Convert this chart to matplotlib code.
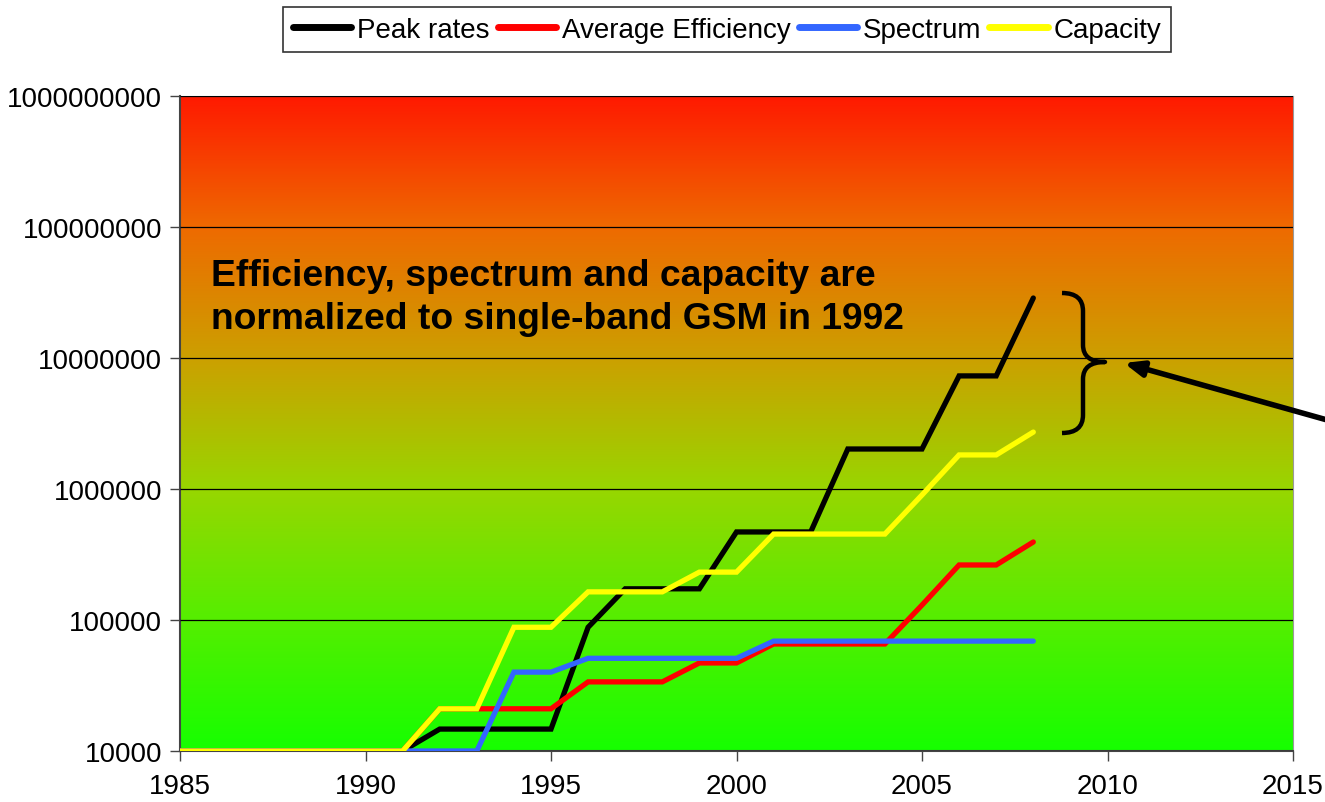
import numpy as np
import matplotlib
matplotlib.use("Agg")
import matplotlib.pyplot as plt
from matplotlib.colors import LinearSegmentedColormap
from matplotlib.path import Path
import matplotlib.patches as mpatches

plt.rcParams["font.family"] = ["Liberation Sans", "DejaVu Sans"]

YEARS = list(range(1985, 2009))

PEAK_RATES = [1e4] * 7 + [1.47e4, 1.47e4, 1.47e4, 1.47e4, 8.8e4, 1.73e5, 1.73e5,
                          1.73e5, 4.7e5, 4.7e5, 4.7e5, 2.02e6, 2.02e6, 2.02e6,
                          7.3e6, 7.3e6, 2.87e7]
AVG_EFFICIENCY = [1e4] * 7 + [2.1e4, 2.1e4, 2.1e4, 2.1e4, 3.37e4, 3.37e4, 3.37e4,
                              4.7e4, 4.7e4, 6.56e4, 6.56e4, 6.56e4, 6.56e4, 1.3e5,
                              2.63e5, 2.63e5, 3.94e5]
SPECTRUM = [1e4] * 9 + [4.0e4, 4.0e4, 5.1e4, 5.1e4, 5.1e4, 5.1e4, 5.1e4,
                        6.9e4, 6.9e4, 6.9e4, 6.9e4, 6.9e4, 6.9e4, 6.9e4, 6.9e4]
CAPACITY = [1e4] * 7 + [2.1e4, 2.1e4, 8.8e4, 8.8e4, 1.64e5, 1.64e5, 1.64e5,
                        2.32e5, 2.32e5, 4.53e5, 4.53e5, 4.53e5, 4.53e5, 9.0e5,
                        1.82e6, 1.82e6, 2.72e6]

SERIES = [
    ("Peak rates", PEAK_RATES, "#000000"),
    ("Average Efficiency", AVG_EFFICIENCY, "#ff0000"),
    ("Spectrum", SPECTRUM, "#3366ff"),
    ("Capacity", CAPACITY, "#ffff00"),
]

Y_TICKS = [1e4, 1e5, 1e6, 1e7, 1e8, 1e9]
X_TICKS = [1985, 1990, 1995, 2000, 2005, 2010, 2015]

NOTE = "Efficiency, spectrum and capacity are\nnormalized to single-band GSM in 1992"

W, H = 1325, 803
fig = plt.figure(figsize=(W / 100, H / 100), dpi=100)
ax = fig.add_axes([180 / W, 51 / H, 1113 / W, 655 / H])


def px(x, y):
    # pixel position (y down from top) -> figure fraction
    return (x / W, 1 - y / H)


# background gradient, green at bottom to red at top
bg = LinearSegmentedColormap.from_list("bg", [
    (0.0, "#16ff00"),
    (0.2, "#55ee00"),
    (0.4, "#98d600"),
    (0.6, "#cca000"),
    (0.8, "#ee6a00"),
    (1.0, "#ff1a00"),
])
grad = np.linspace(0, 1, 256).reshape(-1, 1)
ax.imshow(grad, cmap=bg, origin="lower", aspect="auto",
          extent=[0, 1, 0, 1], transform=ax.transAxes, zorder=0)

for label, vals, color in SERIES:
    ax.plot(YEARS, vals, color=color, lw=3.8, label=label,
            solid_capstyle="round", solid_joinstyle="miter", zorder=3)

ax.set_yscale("log")
ax.set_xlim(1985, 2015)
ax.set_ylim(1e4, 1e9)
ax.set_yticks(Y_TICKS)
ax.set_yticklabels([f"{int(v)}" for v in Y_TICKS])
ax.yaxis.set_minor_locator(matplotlib.ticker.NullLocator())
ax.set_xticks(X_TICKS)
ax.set_xticklabels([str(x) for x in X_TICKS])
ax.tick_params(labelsize=20, length=7, width=1, color="#444444")
ax.tick_params(axis="x", pad=9)
ax.tick_params(axis="y", pad=6)
ax.grid(True, axis="y", color="black", lw=0.9, zorder=1)
ax.set_axisbelow(False)
for s in ["left", "bottom"]:
    ax.spines[s].set_color("#444444")
    ax.spines[s].set_linewidth(1.5)
ax.spines["right"].set_color("#999999")
ax.spines["top"].set_color("#999999")
ax.spines["top"].set_linewidth(0.8)

ax.text(*px(211, 259), NOTE, transform=fig.transFigure,
        fontsize=26.8, fontweight="bold", va="top", ha="left",
        linespacing=1.3, zorder=4)

# curly brace to the right of the line ends
verts = [
    (1062, 294),
    (1083, 294), (1083, 312),
    (1083, 346),
    (1083, 363), (1105, 363),
    (1083, 363), (1083, 380),
    (1083, 416),
    (1083, 434), (1062, 434),
]
codes = [Path.MOVETO,
         Path.CURVE3, Path.CURVE3,
         Path.LINETO,
         Path.CURVE3, Path.CURVE3,
         Path.CURVE3, Path.CURVE3,
         Path.LINETO,
         Path.CURVE3, Path.CURVE3]
brace = mpatches.PathPatch(Path([px(x, y) for x, y in verts], codes),
                           fill=False, lw=3.2, edgecolor="black",
                           transform=fig.transFigure, capstyle="butt",
                           joinstyle="round", zorder=5)
fig.add_artist(brace)

ax.annotate("", xy=px(1124, 364), xycoords="figure fraction",
            xytext=px(1345, 426), textcoords="figure fraction",
            arrowprops=dict(arrowstyle="-|>,head_length=1.1,head_width=0.45",
                            lw=4, color="black", shrinkA=0, shrinkB=0),
            annotation_clip=False, zorder=5)

leg = fig.legend(loc="upper center", bbox_to_anchor=px(727, 8),
                 ncol=4, fontsize=20, frameon=True, fancybox=False,
                 edgecolor="black", handlelength=2.1, handletextpad=0.2,
                 columnspacing=0.3, borderpad=0.35, borderaxespad=0)
leg.get_frame().set_linewidth(1.2)
for h in leg.get_lines():
    h.set_linewidth(5)

fig.savefig("out.png", dpi=100)
